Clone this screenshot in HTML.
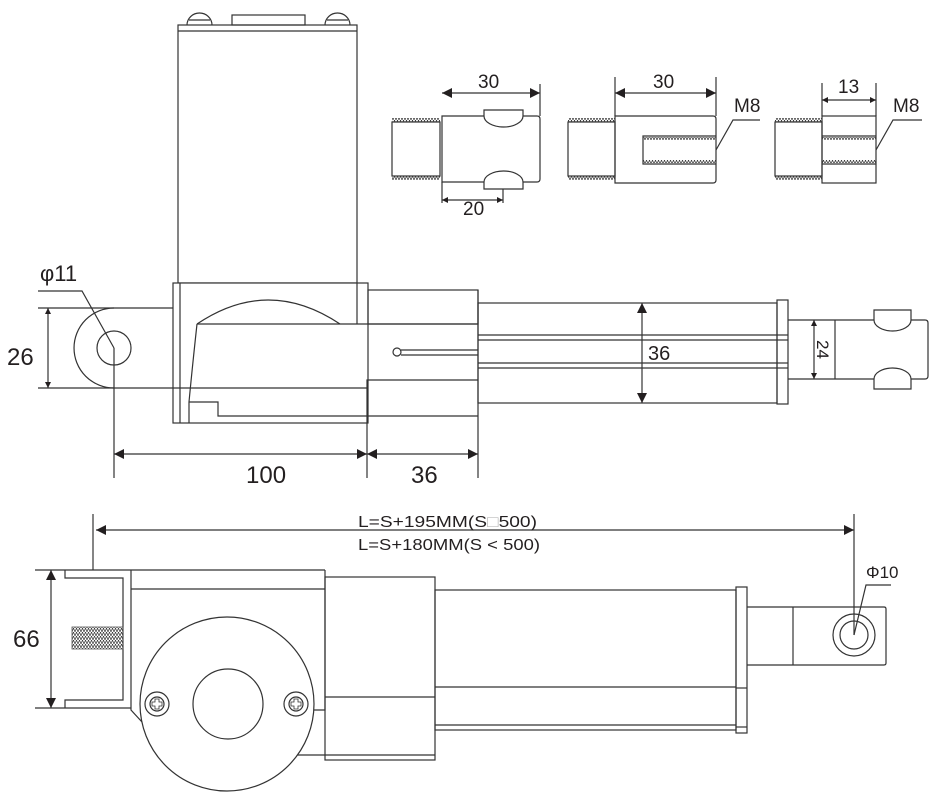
<!DOCTYPE html>
<html><head><meta charset="utf-8"><style>
html,body{margin:0;padding:0;background:#fff;}
svg{display:block;}
text{font-family:"Liberation Sans",sans-serif;fill:#231f20;}
</style></head><body>
<svg width="940" height="800" viewBox="0 0 940 800" xmlns="http://www.w3.org/2000/svg">
<defs>
<marker id="a" viewBox="0 0 10 10" refX="10" refY="5" markerWidth="10" markerHeight="10" markerUnits="userSpaceOnUse" orient="auto-start-reverse"><path d="M0,0 L10,5 L0,10 z" fill="#231f20"/></marker>
<marker id="s" viewBox="0 0 10 10" refX="10" refY="5" markerWidth="6" markerHeight="6" markerUnits="userSpaceOnUse" orient="auto-start-reverse"><path d="M0,0 L10,5 L0,10 z" fill="#231f20"/></marker>
<pattern id="th" width="3" height="4" patternUnits="userSpaceOnUse"><path d="M0,4 L1.5,0 L3,4" fill="none" stroke="#333" stroke-width="0.7"/></pattern>
</defs>
<g fill="none" stroke="#333" stroke-width="1.2">
<!-- ===== TOP VIEW ===== -->
<!-- motor -->
<rect x="178" y="25" width="179" height="258" fill="#fff"/>
<line x1="178" y1="31" x2="357" y2="31"/>
<path d="M187,25 A12.5,12 0 0 1 212,25"/><line x1="189" y1="20" x2="210" y2="20"/>
<path d="M325,25 A12.5,12 0 0 1 350,25"/><line x1="327" y1="20" x2="348" y2="20"/>
<rect x="232" y="15" width="73" height="10"/>
<!-- rear clevis -->
<line x1="38" y1="308" x2="173" y2="308"/>
<line x1="38" y1="388" x2="173" y2="388"/>
<path d="M114,308 A40,40 0 0 0 114,388"/>
<circle cx="114" cy="348" r="17"/>
<line x1="48" y1="308" x2="48" y2="388" marker-start="url(#s)" marker-end="url(#s)"/>
<polyline points="38,291 82,291 114,348"/>
<line x1="114" y1="348" x2="114" y2="478"/>
<!-- gearbox -->
<rect x="173" y="283" width="195" height="140" fill="#fff"/>
<line x1="180" y1="283" x2="180" y2="423"/>
<line x1="357" y1="283" x2="357" y2="324"/>
<path d="M197,324 Q268,276 340,324"/>
<line x1="173" y1="388" x2="367" y2="388"/>
<path d="M197,324 Q192,370 189,402 L189,423"/>
<polyline points="189,402 218,402 218,416 478,416"/>
<line x1="197" y1="324" x2="478" y2="324"/>
<rect x="368" y="290" width="110" height="34"/>
<polyline points="367,423 367,380 478,380"/>
<circle cx="397" cy="352" r="4"/>
<line x1="401" y1="350" x2="478" y2="350"/><line x1="401" y1="355" x2="478" y2="355"/>
<line x1="478" y1="290" x2="478" y2="478"/>
<line x1="367" y1="423" x2="367" y2="478"/>
<line x1="114" y1="454" x2="367" y2="454" marker-start="url(#a)" marker-end="url(#a)"/>
<line x1="367" y1="454" x2="478" y2="454" marker-start="url(#a)" marker-end="url(#a)"/>
<!-- outer tube -->
<rect x="478" y="303" width="299" height="100"/>
<line x1="478" y1="335" x2="777" y2="335"/><line x1="478" y1="340" x2="777" y2="340"/>
<line x1="478" y1="363" x2="777" y2="363"/><line x1="478" y1="368" x2="777" y2="368"/>
<rect x="777" y="300" width="11" height="104"/>
<line x1="777" y1="335" x2="788" y2="335"/><line x1="777" y1="340" x2="788" y2="340"/>
<line x1="777" y1="363" x2="788" y2="363"/><line x1="777" y1="368" x2="788" y2="368"/>
<line x1="642" y1="303" x2="642" y2="403" marker-start="url(#a)" marker-end="url(#a)"/>
<!-- rod -->
<path d="M788,320 L925,320 Q928,320 928,323 L928,376 Q928,379 925,379 L788,379"/>
<line x1="835" y1="320" x2="835" y2="379"/>
<line x1="814" y1="320" x2="814" y2="379" marker-start="url(#s)" marker-end="url(#s)"/>
<path d="M874,320 L874,310 L911,310 L911,320 M874,320 A18.5,11 0 0 0 911,320" fill="#fff"/>
<path d="M874,379 L874,389 L911,389 L911,379 M874,379 A18.5,11 0 0 1 911,379" fill="#fff"/>

<!-- ===== CONNECTORS ===== -->
<!-- 1 -->
<rect x="392" y="122" width="48" height="54"/>
<rect x="392" y="118" width="48" height="4" fill="url(#th)" stroke="none"/>
<rect x="392" y="176" width="48" height="4" fill="url(#th)" stroke="none"/>
<path d="M442,116 L537,116 Q540,116 540,119 L540,179 Q540,182 537,182 L442,182 Z"/>
<path d="M484,116 L484,110 L523,110 L523,116 M484,116 A19.5,11 0 0 0 523,116" fill="#fff"/>
<path d="M484,182 L484,189 L523,189 L523,182 M484,182 A19.5,11 0 0 1 523,182" fill="#fff"/>
<line x1="442" y1="93" x2="540" y2="93" marker-start="url(#a)" marker-end="url(#a)"/>
<line x1="540" y1="84" x2="540" y2="116"/>
<line x1="442" y1="182" x2="442" y2="203"/><line x1="503" y1="189" x2="503" y2="203"/>
<line x1="442" y1="200" x2="503" y2="200" marker-start="url(#s)" marker-end="url(#s)"/>
<!-- 2 -->
<rect x="568" y="122" width="47" height="54"/>
<rect x="568" y="118" width="47" height="4" fill="url(#th)" stroke="none"/>
<rect x="568" y="176" width="47" height="4" fill="url(#th)" stroke="none"/>
<path d="M615,116 L713,116 Q716,116 716,119 L716,180 Q716,183 713,183 L615,183 Z"/>
<polyline points="716,136 643,136 643,164 716,164"/>
<rect x="643" y="137" width="73" height="3" fill="url(#th)" stroke="none"/>
<rect x="643" y="160" width="73" height="3" fill="url(#th)" stroke="none"/>
<line x1="615" y1="77" x2="615" y2="116"/><line x1="716" y1="77" x2="716" y2="116"/>
<line x1="615" y1="93" x2="716" y2="93" marker-start="url(#a)" marker-end="url(#a)"/>
<polyline points="716,150 733,120 760,120"/>
<!-- 3 -->
<rect x="775" y="122" width="47" height="54"/>
<rect x="775" y="118" width="47" height="4" fill="url(#th)" stroke="none"/>
<rect x="775" y="176" width="47" height="4" fill="url(#th)" stroke="none"/>
<rect x="822" y="116" width="54" height="67"/>
<line x1="822" y1="136" x2="876" y2="136"/><line x1="822" y1="164" x2="876" y2="164"/>
<rect x="822" y="137" width="54" height="3" fill="url(#th)" stroke="none"/>
<rect x="822" y="160" width="54" height="3" fill="url(#th)" stroke="none"/>
<line x1="822" y1="83" x2="822" y2="116"/><line x1="876" y1="83" x2="876" y2="116"/>
<line x1="822" y1="100" x2="876" y2="100" marker-start="url(#s)" marker-end="url(#s)"/>
<polyline points="876,150 893,120 922,120"/>

<!-- ===== BOTTOM VIEW ===== -->
<line x1="96" y1="530" x2="854" y2="530" marker-start="url(#a)" marker-end="url(#a)"/>
<line x1="93" y1="514" x2="93" y2="570"/>
<line x1="854" y1="514" x2="854" y2="635"/>
<line x1="35" y1="570" x2="325" y2="570"/>
<polyline points="65,570 65,578 123,578 123,700 65,700 65,708"/>
<line x1="35" y1="708" x2="131" y2="708"/>
<line x1="51" y1="570" x2="51" y2="708" marker-start="url(#a)" marker-end="url(#a)"/>
<rect x="72" y="627" width="51" height="22" fill="url(#th)" stroke="#555" stroke-width="0.8"/>
<polyline points="131,570 131,710 142,722"/>
<polyline points="131,589 325,589"/>
<polyline points="325,570 325,710 314,710"/>
<rect x="325" y="577" width="110" height="183"/>
<line x1="325" y1="697" x2="435" y2="697"/>
<line x1="297" y1="755" x2="435" y2="755"/>
<rect x="435" y="590" width="301" height="140"/>
<line x1="435" y1="687" x2="736" y2="687"/>
<line x1="435" y1="725" x2="736" y2="725"/>
<rect x="736" y="587" width="11" height="146"/>
<line x1="736" y1="688" x2="747" y2="688"/><line x1="736" y1="727" x2="747" y2="727"/>
<path d="M747,607 L884,607 Q886,607 886,609 L886,663 Q886,665 884,665 L747,665"/>
<line x1="793" y1="607" x2="793" y2="665"/>
<circle cx="854" cy="635" r="21"/><circle cx="854" cy="635" r="14"/>
<polyline points="854,635 866,585 891,585"/>
<circle cx="227" cy="704" r="87" fill="#fff"/>
<circle cx="228" cy="704" r="35"/>
<circle cx="157" cy="704" r="12"/><circle cx="157" cy="704" r="7"/>
<path d="M155,699 h4 v3 h3 v4 h-3 v3 h-4 v-3 h-3 v-4 h3 z" stroke-width="0.8"/>
<circle cx="296" cy="704" r="12"/><circle cx="296" cy="704" r="7"/>
<path d="M294,699 h4 v3 h3 v4 h-3 v3 h-4 v-3 h-3 v-4 h3 z" stroke-width="0.8"/>
</g>
<!-- labels -->
<text x="40" y="281" font-size="22">φ11</text>
<text x="7" y="365" font-size="24">26</text>
<text x="246" y="483" font-size="24">100</text>
<text x="411" y="483" font-size="24">36</text>
<text x="648" y="360" font-size="20">36</text>
<text x="0" y="0" font-size="17" transform="translate(817,340) rotate(90)">24</text>
<text x="478" y="88" font-size="19">30</text>
<text x="463" y="215" font-size="19">20</text>
<text x="653" y="88" font-size="19">30</text>
<text x="734" y="112" font-size="19">M8</text>
<text x="838" y="93" font-size="19">13</text>
<text x="893" y="112" font-size="19">M8</text>
<text x="358" y="527" font-size="16" textLength="179" lengthAdjust="spacingAndGlyphs">L=S+195MM(S<tspan fill="#bbb">□</tspan>500)</text>
<text x="358" y="550" font-size="16" textLength="182" lengthAdjust="spacingAndGlyphs">L=S+180MM(S &lt; 500)</text>
<text x="13" y="647" font-size="24">66</text>
<text x="866" y="578" font-size="17">Φ10</text>
</svg>
</body></html>
